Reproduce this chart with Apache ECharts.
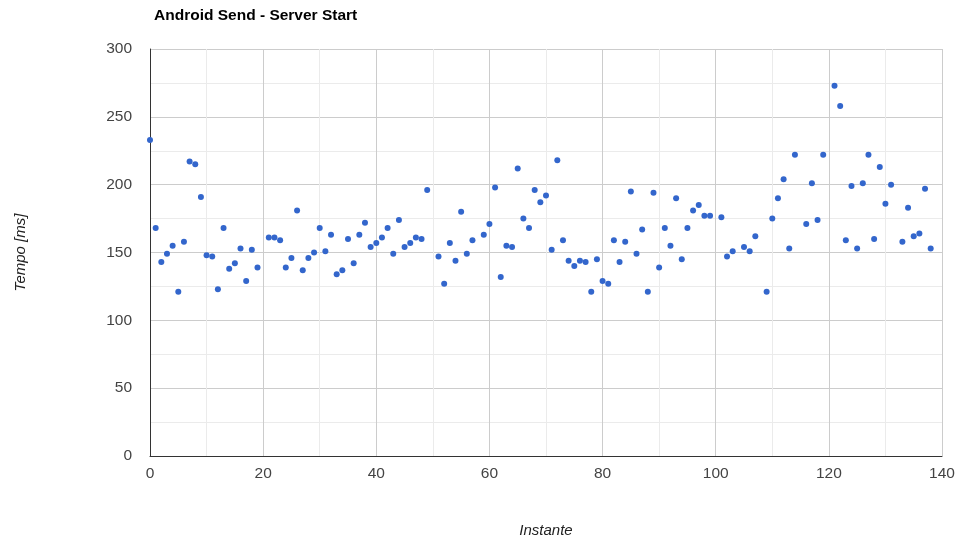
<!DOCTYPE html>
<html>
<head>
<meta charset="utf-8">
<script src="https://cdn.jsdelivr.net/npm/echarts@6/dist/echarts.min.js"></script>
<style>
  html, body { margin: 0; padding: 0; background: #fff; }
  #chart { width: 957px; height: 541px; }
</style>
</head>
<body>
<div id="chart"></div>
<script>
// Instante (x) and Tempo [ms] (y)
const instante = [
  0, 1, 2, 3, 4, 5, 6, 7, 8, 9, 10, 11, 12, 13, 14, 15, 16, 17, 18, 19,
  21, 22, 23, 24, 25, 26, 27, 28, 29, 30, 31, 32, 33, 34, 35, 36, 37, 38, 39,
  40, 41, 42, 43, 44, 45, 46, 47, 48, 49, 51, 52, 53, 54, 55, 56, 57, 59,
  60, 61, 62, 63, 64, 65, 66, 67, 68, 69, 70, 71, 72, 73, 74, 75, 76, 77, 78, 79,
  80, 81, 82, 83, 84, 85, 86, 87, 88, 89, 90, 91, 92, 93, 94, 95, 96, 97, 98, 99,
  101, 102, 103, 105, 106, 107, 109, 110, 111, 112, 113, 114, 116, 117, 118, 119,
  121, 122, 123, 124, 125, 126, 127, 128, 129, 130, 131, 133, 134, 135, 136, 137, 138
];
const tempo = [
  233, 168, 143, 149, 155, 121, 158, 217, 215, 191, 148, 147, 123, 168, 138, 142, 153, 129, 152, 139,
  161, 161, 159, 139, 146, 181, 137, 146, 150, 168, 151, 163, 134, 137, 160, 142, 163, 172, 154,
  157, 161, 168, 149, 174, 154, 157, 161, 160, 196, 147, 127, 157, 144, 180, 149, 159, 163,
  171, 198, 132, 155, 154, 212, 175, 168, 196, 187, 192, 152, 218, 159, 144, 140, 144, 143, 121, 145,
  129, 127, 159, 143, 158, 195, 149, 167, 121, 194, 139, 168, 155, 190, 145, 168, 181, 185, 177, 177,
  176, 147, 151, 154, 151, 162, 121, 175, 190, 204, 153, 222, 171, 201, 174, 222,
  273, 258, 159, 199, 153, 201, 222, 160, 213, 186, 200, 158, 183, 162, 164, 197, 153
];
const titleText = 'Android Send - Server Start';
const xName = 'Instante';
const yName = 'Tempo [ms]';

const chart = echarts.init(document.getElementById('chart'));

const points = instante.map((x, i) => [x, tempo[i]]);

const option = {
  animation: false,
  backgroundColor: '#ffffff',
  textStyle: { fontFamily: 'Liberation Sans, Arial, sans-serif' },
  title: {
    text: titleText,
    left: 149,
    top: 3,
    textStyle: { fontSize: 15.5, fontWeight: 'bold', color: '#000' }
  },
  grid: { left: 150, right: 15, top: 49, bottom: 85, outerBoundsMode: 'none' },
  xAxis: {
    type: 'value',
    min: 0,
    max: 140,
    interval: 20,
    name: xName,
    nameLocation: 'middle',
    nameGap: 67,
    nameTextStyle: { fontStyle: 'italic', fontSize: 15, color: '#222' },
    axisLine: { show: true, onZero: false, lineStyle: { color: '#333', width: 1 } },
    axisTick: { show: false },
    axisLabel: { fontSize: 15.5, color: '#444', margin: 10 },
    splitLine: { show: true, lineStyle: { color: '#cccccc', width: 1 } },
    minorTick: { show: false, splitNumber: 2 },
    minorSplitLine: { show: true, lineStyle: { color: '#ebebeb', width: 1 } }
  },
  yAxis: {
    type: 'value',
    min: 0,
    max: 300,
    interval: 50,
    name: yName,
    nameLocation: 'middle',
    nameGap: 122,
    nameTextStyle: { fontStyle: 'italic', fontSize: 15, color: '#222' },
    axisLine: { show: true, lineStyle: { color: '#333', width: 1 } },
    axisTick: { show: false },
    axisLabel: { fontSize: 15.5, color: '#444', margin: 18 },
    splitLine: { show: true, lineStyle: { color: '#cccccc', width: 1 } },
    minorTick: { show: false, splitNumber: 2 },
    minorSplitLine: { show: true, lineStyle: { color: '#ebebeb', width: 1 } }
  },
  series: [
    {
      type: 'scatter',
      data: points,
      symbolSize: 6,
      itemStyle: { color: '#3366cc', opacity: 1 }
    }
  ]
};

chart.setOption(option);
</script>
</body>
</html>
